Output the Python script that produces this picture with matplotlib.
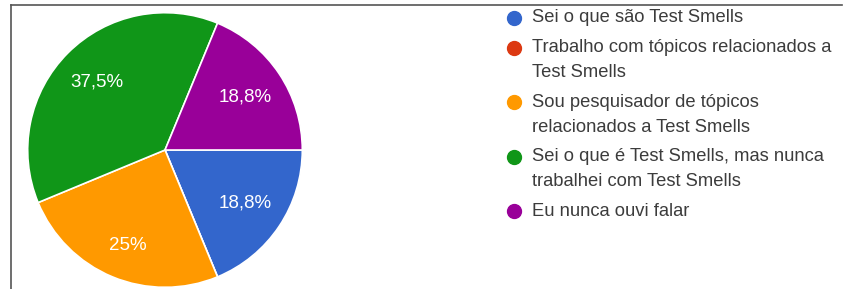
import matplotlib.pyplot as plt
from matplotlib.lines import Line2D

categories = [
    "Sei o que são Test Smells",
    "Trabalho com tópicos relacionados a\nTest Smells",
    "Sou pesquisador de tópicos\nrelacionados a Test Smells",
    "Sei o que é Test Smells, mas nunca\ntrabalhei com Test Smells",
    "Eu nunca ouvi falar",
]
counts = [3, 0, 4, 6, 3]
colors = ["#3366cc", "#dc3912", "#ff9900", "#109618", "#990099"]

W, H = 844, 289
fig = plt.figure(figsize=(W / 100, H / 100), dpi=100)
plt.rcParams['font.family'] = ['Liberation Sans', 'DejaVu Sans']


def pct_label(p):
    if p < 0.5:
        return ""
    s = "%.1f" % p
    if s.endswith(".0"):
        s = s[:-2]
    return s.replace(".", ",") + "%"


# pie
cx, cy, r = 165, 150, 138
ax = fig.add_axes([(cx - r) / W, (H - cy - r) / H, 2 * r / W, 2 * r / H])
wedges, texts, autotexts = ax.pie(
    counts, colors=colors, startangle=0, counterclock=False,
    autopct=pct_label, pctdistance=0.7,
    wedgeprops=dict(edgecolor="white", linewidth=1.2),
    textprops=dict(color="white", fontsize=13.5),
)
# the "25%" label sits a little lower in the original
autotexts[2].set_position((autotexts[2].get_position()[0],
                           autotexts[2].get_position()[1] - 0.05))
ax.set_xlim(-1.005, 1.005)
ax.set_ylim(-1.005, 1.005)
ax.set_aspect("equal")
ax.axis("off")

# frame lines (top and left)
fig.add_artist(Line2D([11 / W, 842 / W], [1 - 5 / H, 1 - 5 / H],
                      transform=fig.transFigure, color="#555555", lw=1.2))
fig.add_artist(Line2D([11 / W, 11 / W], [0, 1 - 5 / H],
                      transform=fig.transFigure, color="#555555", lw=1.2))

# legend
y = 18
for label, c in zip(categories, colors):
    fig.add_artist(Line2D([514 / W], [1 - y / H], marker="o", markersize=10,
                          color=c, transform=fig.transFigure, linestyle="none"))
    lines = label.split("\n")
    for i, ln in enumerate(lines):
        fig.text(532 / W, 1 - (y + 25 * i) / H, ln, fontsize=13.2,
                 color="#3c3c3c", va="center", ha="left")
    y += 25 * (len(lines) - 1) + 29.5

fig.savefig("out.png", dpi=100)
